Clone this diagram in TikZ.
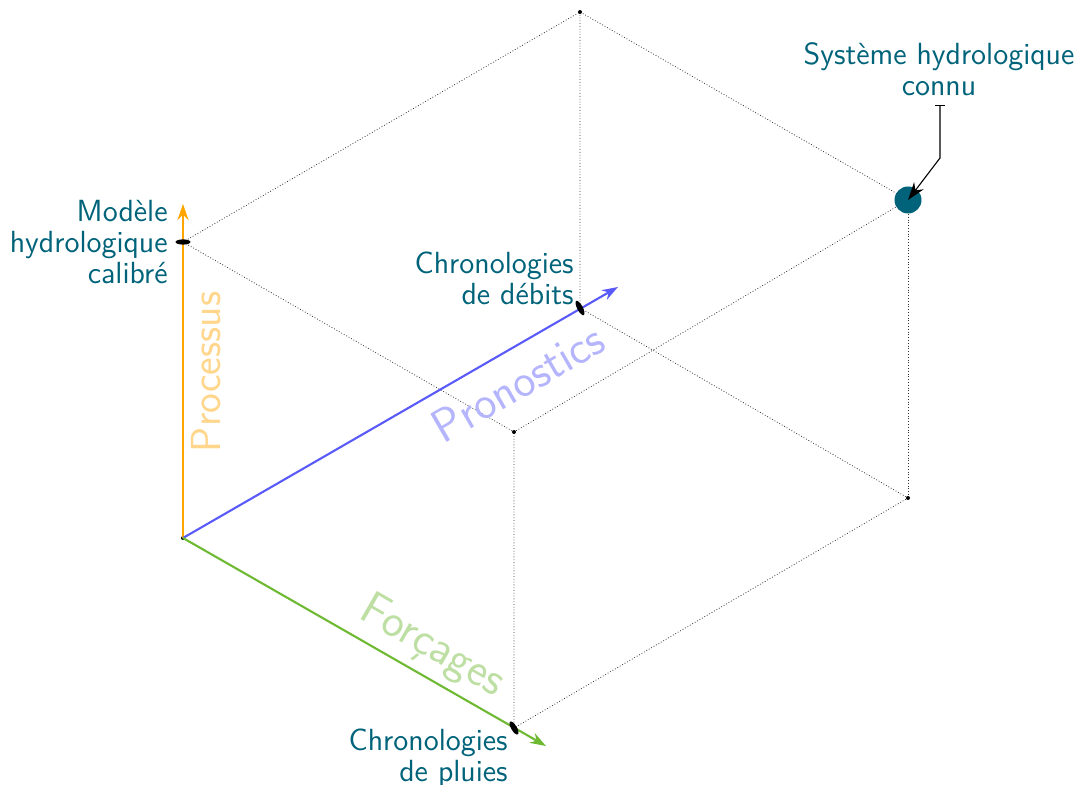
\documentclass[tikz,border=0pt]{standalone}
\usetikzlibrary{arrows.meta,shapes.geometric}
\renewcommand{\familydefault}{\sfdefault}
\definecolor{tealc}{RGB}{0,99,122}
\definecolor{orc}{RGB}{255,165,0}
\definecolor{blc}{RGB}{90,90,250}
\definecolor{grc}{RGB}{110,185,50}
\begin{document}
\begin{tikzpicture}[x=0.5pt,y=-0.5pt,
  edge/.style={densely dotted,line width=0.4pt,black!80},
  axis/.style={line width=1.05pt,-{Stealth[length=8pt,width=5.5pt]}},
  vdot/.style={circle,fill=black,inner sep=0pt,minimum size=2pt},
  lab/.style={text=tealc,font=\fontsize{15.3}{15.5}\selectfont,inner sep=1pt},
  big/.style={font=\fontsize{21}{24}\selectfont},
  bigger/.style={font=\fontsize{23.5}{26}\selectfont}]
\useasboundingbox (0,0) rectangle (1083,785);
% vertices
\coordinate (O) at (183,538);
\coordinate (G) at (514,728);
\coordinate (B) at (580,308);
\coordinate (P) at (183,242);
\coordinate (PB) at (580,12);
\coordinate (PG) at (514,432);
\coordinate (BG) at (908,498);
\coordinate (PBG) at (908,200);
\coordinate (Otip) at (183,204);
\coordinate (Btip) at (618,287);
\coordinate (Gtip) at (546,746);
% dotted edges
\draw[edge] (P) -- (PB) -- (PBG) -- (PG) -- (P);
\draw[edge] (PB) -- (B) -- (BG) -- (G) -- (PG);
\draw[edge] (PBG) -- (BG);
\foreach \v in {PB,PG,BG,O} \node[vdot] at (\v) {};
% axes
\draw[axis,orc] (O) -- (Otip);
\draw[axis,blc] (O) -- (Btip);
\draw[axis,grc] (O) -- (Gtip);
% ellipse markers
\fill[black] (P) ellipse [x radius=7.5, y radius=2.6];
\fill[black,rotate around={-62:(B)}] (B) ellipse [x radius=8, y radius=2.8];
\fill[black,rotate around={-59:(G)}] (G) ellipse [x radius=7.5, y radius=2.8];
% axis names
\node[big,text=orc!45,rotate=90] (proc) at (206,372) {Processus};
\node[bigger,text=blc!45,rotate=30.1] (pron) at (518,383) {Pronostics};
\node[bigger,text=grc!45,rotate=-29.9] (forc) at (432,647) {Forçages};
% labels
\node[lab,align=right,anchor=east] (mod) at (170,242) {Modèle\\hydrologique\\calibré};
\node[lab,align=right,anchor=south east] (deb) at (576,307) {Chronologies\\de débits};
\node[lab,align=right,anchor=north east] (plu) at (510,727) {Chronologies\\de pluies};
% known system
\node[circle,fill=tealc,minimum size=13.5pt,inner sep=0pt] (sys) at (PBG) {};
\node[lab,align=center] (syslab) at (939,69) {Système hydrologique\\connu};
\coordinate (s0) at (940,105);
\coordinate (s1) at (940,158);
\draw[line width=0.55pt,{Bar[width=5pt]}-{Stealth[length=9pt,width=6pt]}] (s0) -- (s1) -- (PBG);
\end{tikzpicture}
\end{document}
